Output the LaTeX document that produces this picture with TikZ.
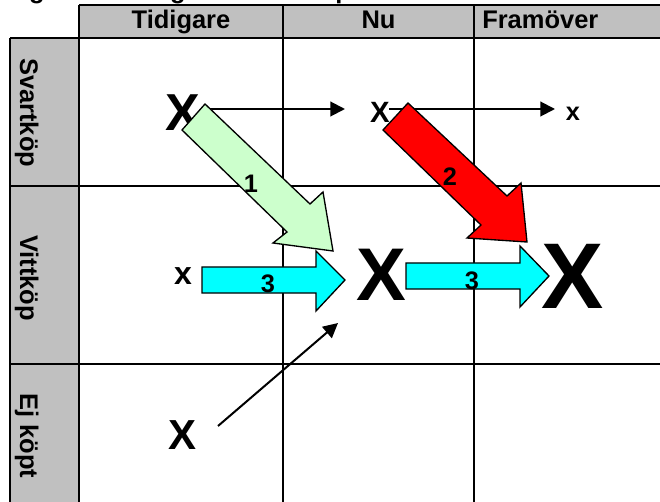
\documentclass[tikz,border=0pt]{standalone}
\usepackage{fontspec}
\setmainfont{Liberation Sans}
\usetikzlibrary{arrows.meta}
\definecolor{hdrgray}{HTML}{C0C0C0}
\definecolor{lgreen}{HTML}{CCFFCC}
\definecolor{bred}{HTML}{FF0000}
\definecolor{bcyan}{HTML}{00FFFF}
\begin{document}
\begin{tikzpicture}[x=0.75pt,y=-0.75pt,
  gridline/.style={line width=2pt},
  hdr/.style={inner sep=0pt, font=\bfseries\fontsize{19.1}{21}\selectfont},
  rowhdr/.style={hdr, rotate=-90, anchor=base west},
  bigx/.style={inner sep=0pt, font=\bfseries\fontsize{#1}{#1}\selectfont},
  numlbl/.style={inner sep=0pt, font=\bfseries\fontsize{19}{20}\selectfont},
  thinarrow/.style={line width=1.5pt, -{Triangle[length=11pt,width=11pt]}},
  blockarrow/.style={draw=black, line width=1pt, line join=miter}
]
\useasboundingbox (0,0) rectangle (660,502);
\clip (0,0) rectangle (660,502);

% partly visible caption line above the table
\node[hdr, anchor=base] (capA) at (37,-1) {g};
\node[hdr, anchor=base] (capB) at (178,-1) {g};
\node[hdr, anchor=base west] (capC) at (335,-1) {p};

% header fills
\fill[hdrgray] (79,5) rectangle (670,38);
\fill[hdrgray] (10,38) rectangle (79,510);

% grid
\draw[gridline] (79,5) -- (670,5);
\draw[gridline] (10,38) -- (670,38);
\draw[gridline] (10,186) -- (670,186);
\draw[gridline] (10,364) -- (670,364);
\draw[gridline] (10,38) -- (10,510);
\draw[gridline] (79,5) -- (79,510);
\draw[gridline] (283,5) -- (283,510);
\draw[gridline] (474,5) -- (474,510);

% header texts
\node[hdr, anchor=base] (hTid) at (181,29) {Tidigare};
\node[hdr, anchor=base] (hNu) at (378.5,29) {Nu};
\node[hdr, anchor=base west] (hFram) at (482,29) {Framöver};

\node[rowhdr] (rSvart) at (20,58) {Svartköp};
\node[rowhdr] (rVitt) at (20,235) {Vittköp};
\node[rowhdr] (rEj) at (20,393) {Ej köpt};

% marks
\node[bigx=39] (X1) at (183,113) {X};
\node[bigx=22] (X2) at (380,112) {X};
\node[bigx=19] (X3) at (573,114) {x};
\node[bigx=24] (X4) at (183,276) {x};
\node[bigx=56] (X5) at (381,275) {X};
\node[bigx=70] (X6) at (573,276) {X};
\node[bigx=31.5] (X7) at (183,435) {X};

% thin arrows
\coordinate (a1s) at (205,109);
\coordinate (a1e) at (345,109);
\coordinate (a2s) at (389,109);
\coordinate (a2e) at (555,109);
\coordinate (a3s) at (218,426);
\coordinate (a3e) at (338,323);
\draw[thinarrow] (a1s) -- (a1e);
\draw[thinarrow] (a2s) -- (a2e);
\draw[thinarrow] (a3s) -- (a3e);

% block arrows
\filldraw[blockarrow, fill=bcyan] (202,267) -- (316,267) -- (316,251) -- (345,280) -- (316,311) -- (316,293) -- (202,293) -- cycle;
\filldraw[blockarrow, fill=bcyan] (406,263) -- (520,263) -- (520,246) -- (549,276) -- (520,307) -- (520,289) -- (406,289) -- cycle;
\filldraw[blockarrow, fill=lgreen] (205,104) -- (310,204) -- (323,192) -- (333,251) -- (273,243) -- (287,232) -- (182,130) -- cycle;
\filldraw[blockarrow, fill=bred] (408,103) -- (507,196) -- (521,183) -- (527,242) -- (467,238) -- (481,225) -- (383,130) -- cycle;

% arrow labels
\node[numlbl] (n1) at (251,184) {1};
\node[numlbl] (n2) at (450,177) {2};
\node[numlbl] (n3a) at (268,284) {3};
\node[numlbl] (n3b) at (472,281) {3};
\end{tikzpicture}
\end{document}
